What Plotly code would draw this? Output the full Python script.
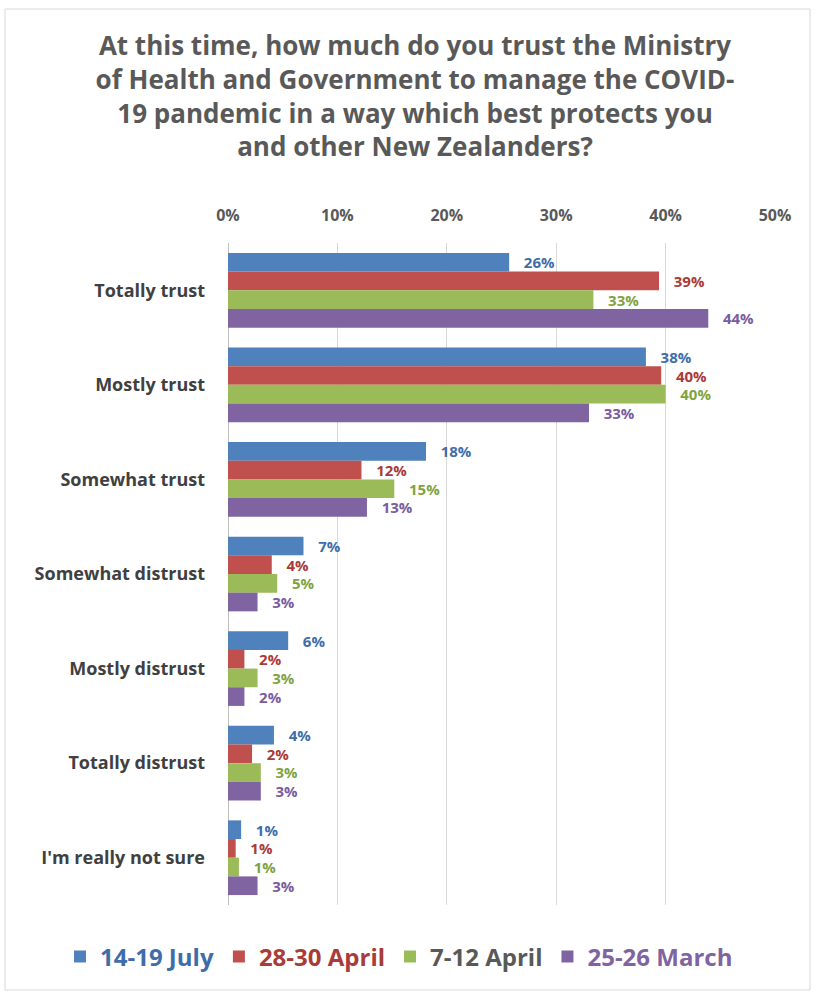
import plotly.graph_objects as go

categories = ["Totally trust", "Mostly trust", "Somewhat trust", "Somewhat distrust",
              "Mostly distrust", "Totally distrust", "I'm really not sure"]

series_names = ["14-19 July", "28-30 April", "7-12 April", "25-26 March"]

july = [25.7, 38.2, 18.1, 6.9, 5.5, 4.2, 1.2]
late_april = [39.4, 39.6, 12.2, 4.0, 1.5, 2.2, 0.7]
early_april = [33.4, 40.0, 15.2, 4.5, 2.7, 3.0, 1.0]
march = [43.9, 33.0, 12.7, 2.7, 1.5, 3.0, 2.7]

july_labels = ["26%", "38%", "18%", "7%", "6%", "4%", "1%"]
late_april_labels = ["39%", "40%", "12%", "4%", "2%", "2%", "1%"]
early_april_labels = ["33%", "40%", "15%", "5%", "3%", "3%", "1%"]
march_labels = ["44%", "33%", "13%", "3%", "2%", "3%", "3%"]

x_ticks = [0, 10, 20, 30, 40, 50]

values = [july, late_april, early_april, march]
labels = [july_labels, late_april_labels, early_april_labels, march_labels]
bar_colors = ["#4F81BD", "#C0504D", "#9BBB59", "#8064A2"]
label_colors = ["#3F6DAA", "#A93B39", "#7FA33F", "#7A5C9E"]
legend_text_colors = ["#3F6DAA", "#A93B39", "#595959", "#8064A2"]

FONT = "Open Sans"
W, H = 816, 994
ML, MR, MT, MB = 228, 41, 243, 89

fig = go.Figure()
for name, vals, labs, bc, lc, ltc in zip(series_names, values, labels, bar_colors,
                                         label_colors, legend_text_colors):
    fig.add_trace(go.Bar(
        y=categories, x=vals, orientation="h",
        name=f"<span style='color:{ltc}'>{name}</span>",
        marker=dict(color=bc, line=dict(width=0)),
        text=["\u00a0\u00a0\u00a0" + t for t in labs],
        textposition="outside",
        textfont=dict(family=FONT, size=15, color=lc, weight="bold"),
        constraintext="none",
        cliponaxis=False,
        hoverinfo="skip",
    ))

pw = W - ML - MR
ph = H - MT - MB
fig.add_shape(type="rect", xref="paper", yref="paper",
              x0=(5 - ML) / pw, x1=(810 - ML) / pw,
              y0=(H - MB - 990) / ph, y1=1 + (MT - 9) / ph,
              line=dict(color="#D9D9D9", width=1), layer="below")

fig.update_layout(
    width=W, height=H,
    margin=dict(l=ML, r=MR, t=MT, b=MB, autoexpand=False),
    paper_bgcolor="white", plot_bgcolor="white",
    barmode="group", bargap=0.21, bargroupgap=0.0,
    title=dict(
        text="At this time, how much do you trust the Ministry<br>"
             "of Health and Government to manage the COVID-<br>"
             "19 pandemic in a way which best protects you<br>"
             "and other New Zealanders?",
        x=415 / W, xref="container", xanchor="center",
        y=1 - 55 / H, yref="container", yanchor="top",
        font=dict(family=FONT, size=26, color="#595959", weight="bold"),
    ),
    xaxis=dict(
        side="top", range=[0, 50], tickvals=x_ticks,
        ticktext=[f"{v}%" for v in x_ticks],
        showgrid=True, gridcolor="#D9D9D9", gridwidth=1,
        zeroline=True, zerolinecolor="#BFBFBF", zerolinewidth=1,
        showline=False, ticks="",
        tickfont=dict(family=FONT, size=16, color="#595959", weight="bold"),
        ticklabelstandoff=18,
        fixedrange=True,
    ),
    yaxis=dict(
        autorange="reversed", showgrid=False, ticks="",
        showline=False,
        tickfont=dict(family=FONT, size=18, color="#404040", weight="bold"),
        ticklabelstandoff=22,
        fixedrange=True,
    ),
    legend=dict(
        orientation="h", xref="paper", x=(60 - ML) / pw, xanchor="left",
        yref="paper", y=(H - MB - 957) / ph, yanchor="middle",
        font=dict(family=FONT, size=24, weight="bold"),
        itemwidth=30, traceorder="normal", tracegroupgap=0,
    ),
    showlegend=True,
)

fig.write_html("out.html")
